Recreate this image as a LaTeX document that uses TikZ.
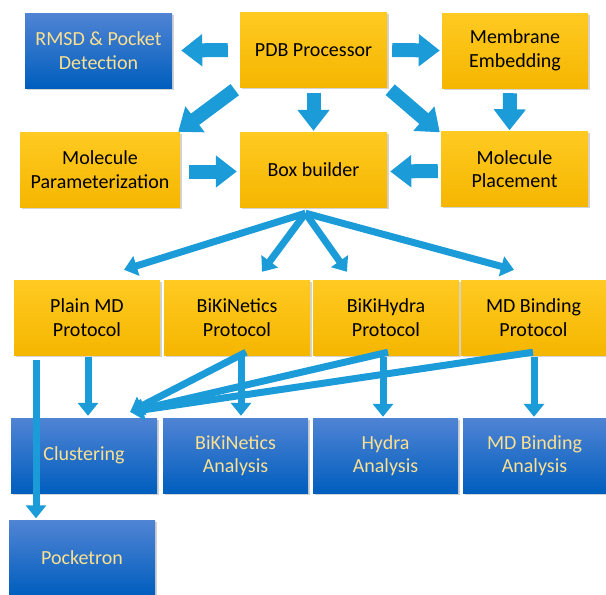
\documentclass[tikz,border=0pt]{standalone}
\usepackage{fontspec}
\setmainfont{Carlito}
\usetikzlibrary{arrows.meta,shadows}
\definecolor{yellowtop}{RGB}{255,202,34}
\definecolor{yellowbottom}{RGB}{245,182,0}
\definecolor{bluetop}{RGB}{80,132,212}
\definecolor{bluebottom}{RGB}{0,94,190}
\definecolor{bluetext}{RGB}{250,224,145}
\definecolor{arrowblue}{RGB}{27,155,216}
\begin{document}
\begin{tikzpicture}
[x=1pt,y=-1pt,
  boxdecorate/.style={rectangle,inner sep=0pt,minimum height=75pt,align=center,
    font=\fontsize{20}{23.5}\selectfont,
    drop shadow={shadow xshift=1.5pt,shadow yshift=-1.5pt,opacity=0.35}},
  yellowbox/.style={boxdecorate,top color=yellowtop,bottom color=yellowbottom,text=black},
  bluebox/.style={boxdecorate,top color=bluetop,bottom color=bluebottom,text=bluetext},
  blockarrow/.style={draw=arrowblue,line width=14pt,-{Triangle[width=31pt,length=21pt]}},
  thinarrow/.style={draw=arrowblue,line width=7pt,-{Triangle[width=20pt,length=13pt]}}]
\useasboundingbox (0,0) rectangle (606,595);
%% nodes or vertices
\foreach \nodename/\label/\x/\y/\w in {pdb/{PDB Processor}/313.5/50/147,
  membrane/{Membrane\\Embedding}/515/50.5/146,
  param/{Molecule\\Parameterization}/100/169.5/160,
  boxbuilder/{Box builder}/313.5/169.5/147,
  placement/{Molecule\\Placement}/514.5/169/147,
  plainmd/{Plain MD\\Protocol}/87/317.5/146,
  kinetics/{BiKiNetics\\Protocol}/237/317.5/146,
  hydra/{BiKiHydra\\Protocol}/386/317.5/146,
  binding/{MD Binding\\Protocol}/533.5/317.5/145} {
  \node (\nodename) at (\x,\y) [yellowbox,minimum width=\w pt] {\label};
}
\foreach \nodename/\label/\x/\y/\w in {rmsd/{RMSD \& Pocket\\Detection}/98.5/50.5/147,
  clustering/{Clustering}/84/455.5/146,
  kinanalysis/{BiKiNetics\\Analysis}/235.5/455.5/145,
  hydraanalysis/{Hydra\\Analysis}/385.5/455.5/145,
  bindanalysis/{MD Binding\\Analysis}/534.5/455.5/143,
  pocketron/{Pocketron}/82/558/146} {
  \node (\nodename) at (\x,\y) [bluebox,minimum width=\w pt] {\label};
}
%% top block arrows
\draw[blockarrow] ([xshift=-12pt]pdb.west) -- ([xshift=9pt]rmsd.east);
\draw[blockarrow] ([xshift=5pt]pdb.east) -- ([xshift=-2pt]membrane.west);
\draw[blockarrow] ([shift={(-5pt,-2pt)}]pdb.south west) -- ([xshift=-2pt]param.north east);
\draw[blockarrow] ([yshift=-5pt]pdb.south) -- ([yshift=1pt]boxbuilder.north);
\draw[blockarrow] ([shift={(3pt,-2pt)}]pdb.south east) -- ([shift={(-1pt,-1pt)}]placement.north west);
\draw[blockarrow] ([shift={(-5pt,-5pt)}]membrane.south) -- ([shift={(-5pt,1pt)}]placement.north);
\draw[blockarrow] ([shift={(9pt,-2pt)}]param.east) -- ([shift={(-3pt,-2pt)}]boxbuilder.west);
\draw[blockarrow] ([shift={(-3pt,-2pt)}]placement.west) -- ([shift={(3pt,-2pt)}]boxbuilder.east);
%% fan to the protocols
\coordinate (fan) at ([shift={(-8pt,-6pt)}]boxbuilder.south);
\path
\foreach \endnode/\dx/\dy in {plainmd/37/10, kinetics/25/8, hydra/-39/8, binding/-19.5/10} {
  (fan) edge[thinarrow] ([shift={(\dx pt,\dy pt)}]\endnode.north)
};
%% protocols to analyses
\coordinate (clusterin) at ([shift={(-27pt,6pt)}]clustering.north east);
\draw[thinarrow] ([shift={(-51pt,-5pt)}]plainmd.south) -- ([shift={(-46pt,2pt)}]pocketron.north);
\draw[thinarrow] ([shift={(1pt,-2pt)}]plainmd.south) -- ([shift={(4pt,2pt)}]clustering.north);
\path
\foreach \startnode/\dx in {kinetics/9, hydra/2, binding/-0.5} {
  ([shift={(\dx pt,3pt)}]\startnode.south) edge[thinarrow] (clusterin)
};
\draw[thinarrow] ([shift={(4pt,-2pt)}]kinetics.south) -- ([shift={(5.5pt,2pt)}]kinanalysis.north);
\draw[thinarrow] ([shift={(-3pt,-2pt)}]hydra.south) -- ([shift={(-2.5pt,1pt)}]hydraanalysis.north);
\draw[thinarrow] ([shift={(0.5pt,-2pt)}]binding.south) -- ([shift={(-0.5pt,1pt)}]bindanalysis.north);
\end{tikzpicture}
\end{document}
